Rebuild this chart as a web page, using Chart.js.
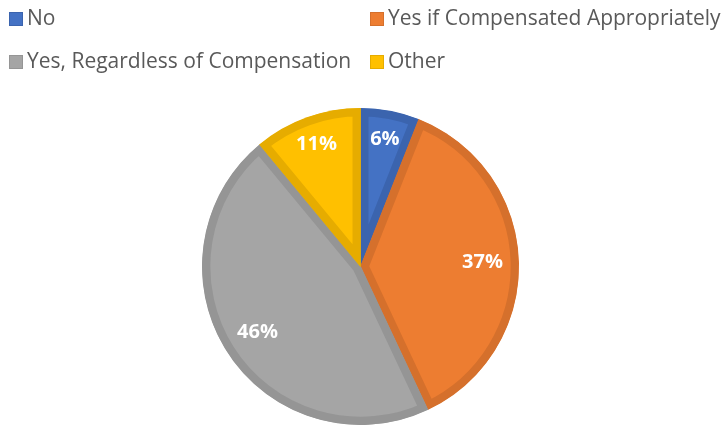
<!DOCTYPE html>
<html>
<head>
<meta charset="utf-8">
<script src="https://cdn.jsdelivr.net/npm/chart.js@4"></script>
<style>
  html, body { margin: 0; padding: 0; background: #fff; }
  #wrap { width: 721px; height: 425px; }
</style>
</head>
<body>
<div id="wrap"><canvas id="pie"></canvas></div>
<script>
const categories = ["No", "Yes if Compensated Appropriately", "Yes, Regardless of Compensation", "Other"];
const shares = [6, 37, 46, 11];
const fillColors = ["#4472C4", "#ED7D31", "#A5A5A5", "#FFC000"];
const edgeColors = ["#3B64AE", "#D5702C", "#959595", "#E6AC00"];

// legend drawn by hand: two columns, two rows like the original
const legendCols = [9, 370];
const legendRows = [19, 62];

const sideLegend = {
  id: "sideLegend",
  afterDraw(chart) {
    const ctx = chart.ctx;
    ctx.save();
    ctx.font = "21px 'Open Sans'";
    ctx.textBaseline = "middle";
    categories.forEach((name, i) => {
      const x = legendCols[i % 2];
      const y = legendRows[Math.floor(i / 2)];
      ctx.fillStyle = fillColors[i];
      ctx.fillRect(x, y - 7, 14, 14);
      ctx.strokeStyle = edgeColors[i];
      ctx.lineWidth = 1;
      ctx.strokeRect(x + 0.5, y - 6.5, 13, 13);
      ctx.fillStyle = "#595959";
      ctx.fillText(name, x + 18, y);
    });
    ctx.restore();
  }
};

const sliceLabels = {
  id: "sliceLabels",
  afterDatasetsDraw(chart) {
    const ctx = chart.ctx;
    const meta = chart.getDatasetMeta(0);
    ctx.save();
    ctx.font = "bold 20px 'Open Sans'";
    ctx.fillStyle = "#ffffff";
    ctx.textAlign = "center";
    ctx.textBaseline = "middle";
    meta.data.forEach((arc, i) => {
      const p = arc.getProps(["x", "y", "startAngle", "endAngle", "outerRadius"], true);
      const mid = (p.startAngle + p.endAngle) / 2;
      const f = shares[i] < 15 ? 0.82 : 0.77;
      const r = p.outerRadius * f;
      ctx.fillText(shares[i] + "%", p.x + Math.cos(mid) * r, p.y + Math.sin(mid) * r);
    });
    ctx.restore();
  }
};

new Chart(document.getElementById("pie"), {
  type: "pie",
  data: {
    labels: categories,
    datasets: [{
      data: shares,
      backgroundColor: fillColors,
      borderColor: edgeColors,
      borderWidth: 8,
      borderAlign: "inner",
      borderJoinStyle: "miter"
    }]
  },
  options: {
    responsive: true,
    maintainAspectRatio: false,
    animation: false,
    layout: { padding: { top: 108, bottom: 0, left: 0, right: 0 } },
    plugins: {
      legend: { display: false },
      tooltip: { enabled: false }
    }
  },
  plugins: [sliceLabels, sideLegend]
});
</script>
</body>
</html>
